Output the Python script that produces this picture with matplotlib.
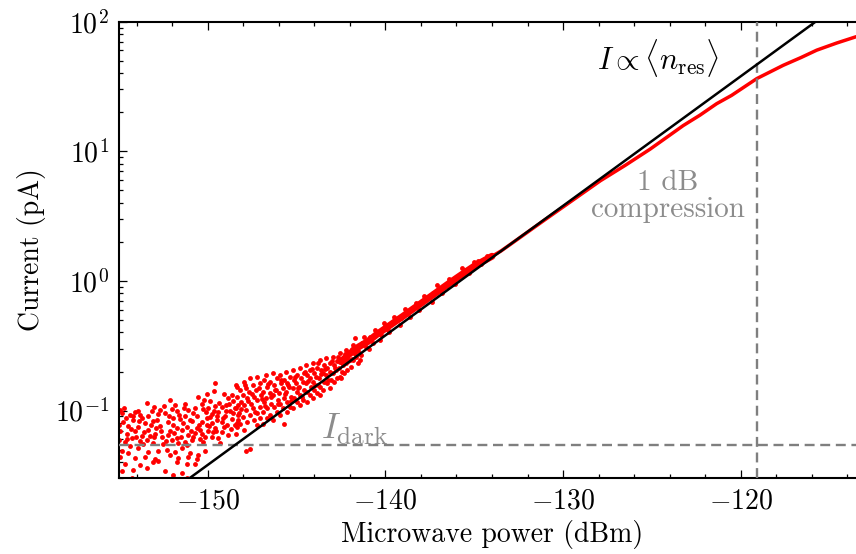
import matplotlib
matplotlib.use("Agg")
import matplotlib.pyplot as plt
from matplotlib.ticker import MultipleLocator, LogLocator, NullFormatter

plt.rcParams.update({
    "font.family": "serif",
    "font.serif": ["cmr10"],
    "mathtext.fontset": "cm",
    "axes.formatter.use_mathtext": True,
    "font.size": 20,
})

# ---------------- data ----------------
# noisy low-power cloud: microwave power (dBm) and current (pA)
cloud_p = [
    -153.44, -153.01, -152.12, -151.28, -150.53, -150.06, -149.59, -149.63, -148.84, -148.37, -148.28,
    -154.85, -154.38, -154.09, -153.72, -153.34, -152.78, -152.41, -152.03, -151.75, -151.28, -151.09,
    -150.72, -150.34, -149.97, -149.78, -149.59, -149.40, -149.22, -149.03, -148.75, -148.47, -148.28,
    -154.75, -154.47, -154.19, -153.91, -153.53, -153.06, -152.69, -152.22, -151.94, -151.56, -151.19,
    -150.91, -150.62, -150.34, -150.06, -149.78, -149.50, -149.22, -148.93, -148.65, -148.37,
    -154.94, -154.56, -154.09, -153.72, -153.34, -152.97, -152.59, -152.12, -151.75, -151.47, -151.09,
    -150.72, -150.34, -149.97, -149.59, -149.22, -148.84,
    -154.98, -154.66, -154.28, -153.81, -153.44, -153.06, -152.50, -152.03, -151.66, -151.28, -150.91,
    -150.44, -150.15, -149.78, -149.40,
    -154.85, -154.47, -153.91, -153.34, -152.78, -152.31, -151.84, -151.47, -151.00, -150.53, -150.15,
    -154.94, -154.09, -153.53, -152.97, -152.12, -151.66, -151.09, -150.62,
    -154.66, -153.81, -153.06, -152.78, -151.75, -151.19, -150.72,
    -154.85, -154.19, -153.44, -152.41, -151.94, -151.47, -154.28, -151.19,
    -154.60, -154.30, -154.02, -153.80, -153.60, -153.20, -153.00, -152.85, -152.60, -152.35, -152.15,
    -151.90, -151.60, -151.40, -151.15, -150.95, -150.80, -150.50, -150.25, -150.10, -149.90, -149.70,
    -149.45, -149.30, -149.10, -148.95, -148.70, -148.55, -148.40, -154.40, -153.95, -153.15, -152.45,
    -151.85, -150.20, -149.85, -149.10, -148.60, -155.00, -154.70,
    -148.40, -148.33, -148.42, -148.30, -148.36,
    -148.20, -148.14, -148.23, -148.16,
    -147.96, -148.03, -147.93, -148.01, -147.97,
    -147.83, -147.77, -147.85, -147.79, -147.82,
    -147.60, -147.66, -147.58, -147.64, -147.61,
    -147.45, -147.40, -147.47, -147.42,
    -147.22, -147.27, -147.20, -147.25, -147.23,
    -147.08, -147.02, -147.06, -147.04,
    -146.85, -146.90, -146.83, -146.88, -146.86,
    -146.70, -146.64, -146.72, -146.66, -146.69,
    -146.47, -146.52, -146.45, -146.50,
    -146.32, -146.27, -146.34, -146.29, -146.31,
    -146.09, -146.14, -146.07, -146.12,
    -145.95, -145.90, -145.97, -145.92, -145.94,
    -145.72, -145.77, -145.70, -145.75, -145.73,
    -145.57, -145.52, -145.59, -145.54, -145.56,
    -145.35, -145.40, -145.33, -145.38,
    -145.20, -145.15, -145.22, -145.17, -145.19,
    -144.97, -145.02, -144.95, -145.00,
    -144.82, -144.77, -144.84, -144.79, -144.81,
    -144.60, -144.65, -144.58, -144.63,
    -144.45, -144.40, -144.47, -144.42, -144.44,
    -144.22, -144.27, -144.20, -144.25,
    -144.07, -144.02, -144.09, -144.04, -144.06,
    -143.84, -143.89, -143.82, -143.87,
    -143.70, -143.65, -143.72, -143.67, -143.69,
    -143.47, -143.52, -143.45, -143.50,
    -143.32, -143.27, -143.34, -143.29,
    -143.09, -143.14, -143.07, -143.12,
    -142.95, -142.90, -142.97, -142.92,
    -142.72, -142.77, -142.70,
    -142.57, -142.52, -142.59, -142.54,
    -142.34, -142.39, -142.32,
    -142.19, -142.14, -142.21, -142.16,
    -141.97, -142.02, -141.95,
    -141.82, -141.77, -141.84,
    -141.59, -141.64, -141.57,
    -142.50, -141.43,
    -141.90, -141.70, -141.40, -141.20, -140.90, -140.60, -140.30, -140.10, -139.80, -139.50,
    -139.20, -138.90, -138.60, -138.30, -138.10, -137.80, -137.40, -137.10, -136.80, -136.40,
    -136.10, -135.70, -135.30, -135.00, -134.60, -134.30,
    -154.92, -154.55, -154.21, -153.88, -153.66, -153.27, -152.93, -152.71, -152.26, -151.98,
    -151.73, -151.52, -151.33, -151.02, -150.84, -150.63, -150.41, -150.27, -150.02, -149.87,
    -149.66, -149.53, -149.36, -149.16, -148.99, -148.81, -148.62, -148.49, -148.12, -147.88,
    -147.71, -147.52, -147.36, -147.14, -146.97, -146.79, -146.58, -146.41, -146.24, -146.03,
    -145.86, -145.66, -145.47, -145.29, -145.08, -144.92, -144.71, -144.55, -144.36, -144.15,
    -143.97, -143.78, -143.60, -143.42, -143.21, -143.03, -142.84, -142.66, -142.47, -142.29,
    -142.08, -141.88, -141.69, -141.52, -141.30, -141.10, -140.85, -140.70, -140.45, -140.25,
    -140.00, -139.85, -139.60, -139.35, -139.10, -138.80, -138.45, -138.20, -137.95, -137.70,
    -137.30, -136.95, -136.60, -136.25, -135.90, -135.50, -135.15, -134.80,
]
cloud_i = [
    0.115, 0.106, 0.121, 0.112, 0.127, 0.133, 0.163, 0.141, 0.125, 0.152, 0.111,
    0.095, 0.093, 0.098, 0.088, 0.091, 0.094, 0.096, 0.102, 0.099, 0.090, 0.101,
    0.105, 0.112, 0.104, 0.094, 0.108, 0.097, 0.106, 0.091, 0.100, 0.104, 0.093,
    0.082, 0.076, 0.085, 0.074, 0.080, 0.083, 0.076, 0.081, 0.078, 0.086, 0.075,
    0.083, 0.073, 0.082, 0.088, 0.080, 0.085, 0.082, 0.078, 0.086, 0.080,
    0.069, 0.066, 0.070, 0.064, 0.071, 0.066, 0.062, 0.069, 0.061, 0.071, 0.065,
    0.067, 0.066, 0.070, 0.073, 0.068, 0.065,
    0.059, 0.057, 0.061, 0.058, 0.059, 0.056, 0.055, 0.059, 0.056, 0.057, 0.059,
    0.060, 0.063, 0.062, 0.061,
    0.049, 0.047, 0.051, 0.048, 0.049, 0.050, 0.048, 0.051, 0.047, 0.045, 0.049,
    0.044, 0.043, 0.044, 0.042, 0.045, 0.043, 0.044, 0.042,
    0.039, 0.038, 0.040, 0.041, 0.040, 0.039, 0.039,
    0.034, 0.035, 0.036, 0.034, 0.032, 0.033, 0.030, 0.030,
    0.088, 0.072, 0.062, 0.093, 0.068, 0.077, 0.062, 0.085, 0.070, 0.058, 0.090,
    0.067, 0.092, 0.080, 0.054, 0.069, 0.095, 0.078, 0.057, 0.098, 0.076, 0.068,
    0.091, 0.056, 0.075, 0.110, 0.072, 0.095, 0.066, 0.053, 0.099, 0.100, 0.108,
    0.110, 0.120, 0.118, 0.135, 0.118, 0.078, 0.104,
    0.157, 0.128, 0.104, 0.0843, 0.0748,
    0.144, 0.117, 0.095, 0.0794,
    0.167, 0.132, 0.110, 0.0895, 0.0705,
    0.148, 0.124, 0.101, 0.0818, 0.049,
    0.177, 0.140, 0.113, 0.0922, 0.0508,
    0.157, 0.128, 0.104, 0.0843,
    0.182, 0.144, 0.120, 0.095, 0.0771,
    0.162, 0.132, 0.107, 0.0869,
    0.172, 0.140, 0.117, 0.0977, 0.0794,
    0.188, 0.152, 0.124, 0.104, 0.0869,
    0.167, 0.136, 0.113, 0.0922,
    0.194, 0.157, 0.132, 0.107, 0.0843,
    0.177, 0.144, 0.120, 0.0977,
    0.188, 0.162, 0.136, 0.113, 0.0922,
    0.172, 0.148, 0.124, 0.104, 0.0794,
    0.200, 0.162, 0.140, 0.117, 0.0977,
    0.182, 0.152, 0.128, 0.107,
    0.206, 0.172, 0.148, 0.124, 0.104,
    0.188, 0.162, 0.140, 0.117,
    0.212, 0.177, 0.152, 0.132, 0.110,
    0.194, 0.167, 0.144, 0.120,
    0.225, 0.188, 0.162, 0.140, 0.117,
    0.206, 0.177, 0.152, 0.132,
    0.232, 0.194, 0.167, 0.144, 0.124,
    0.212, 0.182, 0.157, 0.136,
    0.246, 0.206, 0.177, 0.152, 0.132,
    0.225, 0.194, 0.167, 0.144,
    0.253, 0.212, 0.188, 0.162,
    0.232, 0.200, 0.172, 0.148,
    0.261, 0.225, 0.194, 0.167,
    0.239, 0.206, 0.177,
    0.277, 0.246, 0.212, 0.182,
    0.253, 0.225, 0.194,
    0.294, 0.261, 0.232, 0.206,
    0.285, 0.246, 0.218,
    0.321, 0.277, 0.246,
    0.303, 0.261, 0.232,
    0.177, 0.245,
    0.250, 0.360, 0.270, 0.370, 0.300, 0.420, 0.350, 0.470, 0.400, 0.530,
    0.460, 0.610, 0.530, 0.680, 0.600, 0.760, 0.690, 0.930, 0.800, 1.030,
    0.940, 1.250, 1.150, 1.400, 1.360, 1.550,
    0.101, 0.060, 0.091, 0.083, 0.055, 0.064, 0.073, 0.101, 0.065, 0.087,
    0.073, 0.063, 0.105, 0.085, 0.062, 0.090, 0.071, 0.102, 0.078, 0.089,
    0.100, 0.069, 0.115, 0.088, 0.100, 0.113, 0.131, 0.077, 0.102, 0.158,
    0.118, 0.133, 0.097, 0.150, 0.122, 0.108, 0.160, 0.127, 0.145, 0.113,
    0.171, 0.133, 0.158, 0.118, 0.182, 0.150, 0.128, 0.200, 0.170, 0.210,
    0.157, 0.232, 0.190, 0.210, 0.172, 0.243, 0.213, 0.257, 0.199, 0.275,
    0.240, 0.300, 0.280, 0.290, 0.330, 0.310, 0.370, 0.330, 0.400, 0.380,
    0.450, 0.420, 0.470, 0.500, 0.520, 0.580, 0.620, 0.640, 0.700, 0.730,
    0.800, 0.860, 0.920, 1.000, 1.070, 1.220, 1.250, 1.420,
]

# dense band where the response becomes clean
band_p = [-142.5, -142.0, -141.5, -141.0, -140.5, -140.0, -139.5, -139.0, -138.5, -138.0,
          -137.5, -137.0, -136.5, -136.0, -135.5, -135.0, -134.5, -134.0]
band_i = [0.238, 0.275, 0.31, 0.34, 0.385, 0.43, 0.48, 0.535, 0.60, 0.67,
          0.75, 0.84, 0.94, 1.05, 1.17, 1.30, 1.42, 1.55]

# smooth high-power response (compression)
curve_p = [-134.0, -133.5, -133.0, -132.0, -131.0, -130.0, -128.9, -127.9, -126.5, -125.1,
           -123.24, -122.3, -121.36, -120.52, -119.1, -117.61, -116.6, -115.73, -114.6,
           -113.52, -113.0]
curve_i = [1.55, 1.70, 1.90, 2.38, 2.98, 3.72, 4.75, 5.93, 7.8, 10.4,
           15.8, 19.0, 23.3, 27.0, 36.4, 46.1, 53.0, 60.3, 68.5, 76.5, 79.0]

# linear reference I ∝ <n_res>
fit_p = [-152.0, -115.0]
fit_i = [0.024, 120.0]

i_dark = 0.054
p_1db = -119.1

# ---------------- figure ----------------
fig = plt.figure(figsize=(8.56, 5.54), dpi=100)
ax = fig.add_axes([118.85 / 856, 1 - 478.3 / 554, (865.2 - 118.85) / 856, (478.3 - 21.7) / 554])

ax.plot(cloud_p, cloud_i, "o", color="red", ms=3.5, mew=0, zorder=2)
ax.plot(band_p, band_i, "-", color="red", lw=5.0, solid_capstyle="round", zorder=2)
ax.plot(curve_p, curve_i, "-", color="red", lw=2.5, solid_capstyle="round",
        solid_joinstyle="round", zorder=2)

ax.axhline(i_dark, color="#7f7f7f", lw=1.7, dashes=(4.2, 2.4), zorder=3)
ax.axvline(p_1db, color="#7f7f7f", lw=1.7, dashes=(4.2, 2.4), zorder=3)

ax.plot(fit_p, fit_i, color="black", lw=1.8, zorder=4)

ax.set_xlim(-155, -113)
ax.set_yscale("log")
ax.set_ylim(0.03, 100)

ax.xaxis.set_major_locator(MultipleLocator(10))
ax.xaxis.set_minor_locator(MultipleLocator(2))
ax.yaxis.set_major_locator(LogLocator(base=10, numticks=10))
ax.yaxis.set_minor_locator(LogLocator(base=10, subs=range(2, 10), numticks=20))
ax.yaxis.set_minor_formatter(NullFormatter())

ax.tick_params(which="both", direction="in", top=True, right=True, width=0.9)
ax.tick_params(which="major", length=5.5, pad=7)
ax.tick_params(which="minor", length=3)
for s in ax.spines.values():
    s.set_linewidth(1.5)

ax.set_xlabel("Microwave power (dBm)")
ax.set_ylabel("Current (pA)", labelpad=6)

ax.text(-128.1, 52.4, r"$I \propto \langle n_{\mathrm{res}} \rangle$", ha="left", va="center",
        fontsize=22)
ax.text(-124.1, 4.5, "1 dB\ncompression", ha="center", va="center",
        color="#8c8c8c", linespacing=1.0, fontsize=21)
ax.text(-143.6, 0.0605, r"$I_{\mathrm{dark}}$", color="#8c8c8c", ha="left", va="baseline",
        fontsize=26)

fig.savefig("out.png", dpi=100)
